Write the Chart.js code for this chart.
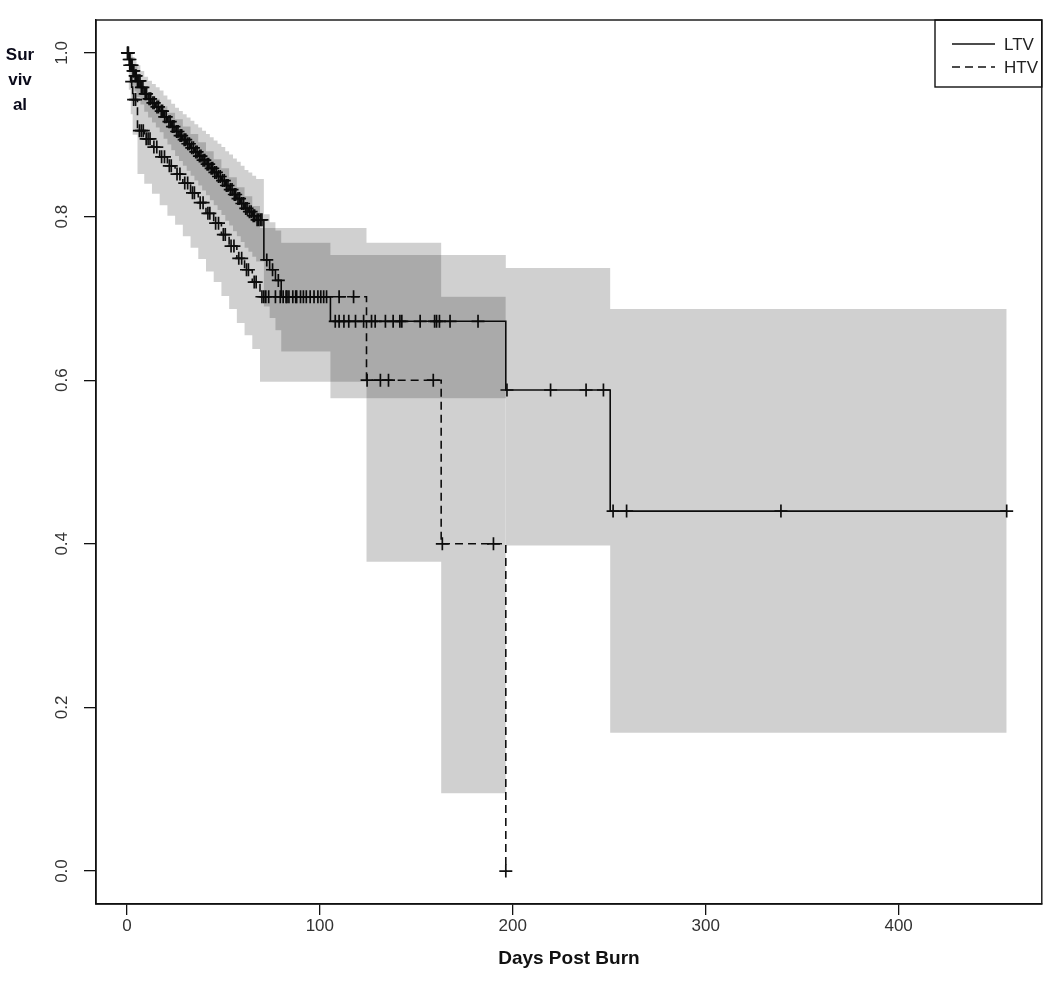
<!DOCTYPE html>
<html>
<head>
<meta charset="utf-8">
<script src="https://cdn.jsdelivr.net/npm/chart.js@4.4.0/dist/chart.umd.min.js"></script>
<style>
  html, body { margin: 0; padding: 0; background: #fff; }
</style>
</head>
<body>
<canvas id="km" width="1050" height="994"></canvas>
<script>
// LTV: step times (days) and survival after each step, with confidence bounds
const ltvTimes = [0, 1, 2, 3, 4, 5, 7, 9, 11, 13, 15, 17, 19, 21, 23, 25, 27, 29, 31, 33, 35, 37, 39, 41, 43, 45, 47, 49, 51, 53, 55, 57, 59, 61, 63, 65, 67, 71, 74, 77, 80, 105.5, 196.4, 250.5];
const ltvSurv = [1, 0.992, 0.985, 0.978, 0.972, 0.966, 0.958, 0.95, 0.944, 0.939, 0.934, 0.929, 0.922, 0.916, 0.91, 0.904, 0.899, 0.894, 0.889, 0.884, 0.879, 0.874, 0.869, 0.864, 0.859, 0.854, 0.849, 0.844, 0.838, 0.833, 0.827, 0.822, 0.816, 0.81, 0.806, 0.801, 0.796, 0.747, 0.735, 0.722, 0.702, 0.672, 0.588, 0.44];
const ltvUpper = [1, 1, 1, 0.995, 0.99, 0.985, 0.978, 0.971, 0.966, 0.962, 0.958, 0.954, 0.948, 0.943, 0.938, 0.933, 0.929, 0.925, 0.921, 0.917, 0.913, 0.909, 0.905, 0.901, 0.897, 0.893, 0.889, 0.885, 0.88, 0.876, 0.871, 0.867, 0.862, 0.857, 0.854, 0.85, 0.846, 0.803, 0.793, 0.783, 0.768, 0.753, 0.737, 0.687];
const ltvLower = [1, 0.98, 0.97, 0.96, 0.953, 0.946, 0.937, 0.928, 0.921, 0.915, 0.909, 0.903, 0.895, 0.888, 0.881, 0.874, 0.868, 0.862, 0.856, 0.85, 0.844, 0.838, 0.832, 0.826, 0.82, 0.814, 0.808, 0.802, 0.795, 0.789, 0.782, 0.776, 0.769, 0.762, 0.757, 0.751, 0.745, 0.69, 0.676, 0.661, 0.635, 0.578, 0.398, 0.169];
const ltvEnd = 456;
const ltvCensor = [0.3, 0.8, 1.2, 1.6, 2.3, 2.7, 3.2, 3.6, 4.3, 4.8, 5.5, 6.2, 6.8, 7.5, 8.3, 9.5, 10.2, 11.5, 12.3, 13.5, 14.2, 15.6, 16.4, 17.8, 18.5, 19.6, 20.4, 21.8, 22.5, 23.6, 24.4, 25.8, 26.5, 27.6, 28.4, 29.7, 30.5, 31.6, 32.4, 33.6, 34.5, 35.7, 36.4, 37.6, 38.4, 39.5, 40.4, 41.6, 42.4, 43.7, 44.5, 45.6, 46.4, 47.5, 48.4, 49.6, 50.5, 51.6, 52.4, 53.6, 54.5, 55.7, 56.4, 57.6, 58.4, 59.6, 60.5, 61.6, 62.3, 63.5, 64.4, 65.5, 66.2, 67.5, 68.3, 69.2, 70, 72.5, 75.5, 78.5, 81, 82.5, 84, 86, 88, 90, 91.5, 93, 95, 97, 99, 100.5, 102, 103.5, 108, 110, 112.5, 115, 118.5, 122.7, 126.8, 128.7, 134, 138, 141.5, 142.5, 152, 159.5, 160.5, 162, 167.5, 182, 197, 219.6, 238, 247, 252, 259, 339, 456];

// HTV
const htvTimes = [0, 1, 2, 3, 5.5, 9, 13, 17, 21, 25, 29, 33, 37, 41, 45, 49, 53, 57, 61, 65, 69, 124.2, 162.9, 196.4];
const htvSurv = [1, 0.985, 0.965, 0.943, 0.905, 0.895, 0.885, 0.873, 0.862, 0.852, 0.841, 0.829, 0.817, 0.804, 0.792, 0.778, 0.764, 0.749, 0.735, 0.72, 0.702, 0.6, 0.4, 0];
const htvUpper = [1, 1, 0.995, 0.985, 0.96, 0.952, 0.944, 0.935, 0.927, 0.919, 0.91, 0.901, 0.891, 0.88, 0.87, 0.859, 0.848, 0.836, 0.825, 0.813, 0.786, 0.768, 0.702];
const htvLower = [1, 0.955, 0.925, 0.9, 0.852, 0.84, 0.828, 0.814, 0.801, 0.79, 0.776, 0.762, 0.748, 0.733, 0.72, 0.703, 0.687, 0.67, 0.655, 0.638, 0.598, 0.378, 0.095];
const htvEnd = 196.4;
const htvCensor = [0.5, 1.5, 2.5, 3.5, 4.5, 6.5, 7.5, 8.5, 10, 11, 12, 14, 15.5, 18, 19.5, 22, 23, 26, 27.5, 30, 31.5, 34, 35, 38, 39.5, 42, 43, 46, 47.5, 50, 51, 54, 55.5, 58, 59.5, 62, 63, 66, 67, 70, 71, 72, 73.5, 77, 79.5, 83, 87.5, 110, 117.5, 124.5, 131.4, 135.6, 158.8, 163.5, 190, 196.4];

const seriesNames = ['LTV', 'HTV'];
const xTickValues = [0, 100, 200, 300, 400];
const yTickValues = [0, 0.2, 0.4, 0.6, 0.8, 1.0];

const bandFill = 'rgba(0,0,0,0.185)';
const narrowFont = "'Liberation Sans Narrow', 'Arial Narrow', 'Liberation Sans', sans-serif";

function stepPoints(times, vals, end) {
  const n = vals.length;
  const pts = [];
  for (let i = 0; i < n; i++) pts.push({ x: times[i], y: vals[i] });
  pts.push({ x: end, y: vals[n - 1] });
  return pts;
}

function survAt(times, surv, t) {
  let s = surv[0];
  for (let i = 0; i < times.length; i++) {
    if (times[i] <= t) s = surv[i];
  }
  return s;
}

function censorPoints(censor, times, surv) {
  return censor.map(t => ({ x: t, y: survAt(times, surv, t) }));
}

const bandStyle = {
  type: 'line',
  stepped: true,
  borderWidth: 0,
  borderColor: 'rgba(0,0,0,0)',
  backgroundColor: bandFill,
  pointRadius: 0,
};

const curveStyle = {
  type: 'line',
  stepped: true,
  borderColor: '#111',
  borderWidth: 1.6,
  pointRadius: 0,
  fill: false,
};

const markStyle = {
  type: 'scatter',
  showLine: false,
  pointStyle: 'cross',
  pointRadius: 6.5,
  borderColor: '#111',
  borderWidth: 1.7,
};

const framePlugin = {
  id: 'frame',
  afterDraw(chart) {
    const ctx = chart.ctx;
    const a = chart.chartArea;
    ctx.save();
    ctx.strokeStyle = '#111';
    ctx.lineWidth = 1.4;
    ctx.strokeRect(a.left, a.top, a.right - a.left, a.bottom - a.top);

    // rotated y tick labels, R style
    const ys = chart.scales.y;
    ctx.fillStyle = '#333';
    ctx.font = '17px ' + narrowFont;
    ctx.textAlign = 'center';
    ctx.textBaseline = 'middle';
    ys.ticks.forEach(t => {
      const py = ys.getPixelForValue(t.value);
      ctx.save();
      ctx.translate(62, py);
      ctx.rotate(-Math.PI / 2);
      ctx.fillText(t.value.toFixed(1), 0, 0);
      ctx.restore();
    });

    // y title split over three lines
    ctx.fillStyle = '#0a0a1a';
    ctx.font = "bold 17px 'Liberation Sans', Arial, sans-serif";
    ['Sur', 'viv', 'al'].forEach((s, i) => ctx.fillText(s, 20, 55 + i * 25));

    // legend
    const lx = 935, ly = a.top, lw = a.right - 935, lh = 67;
    ctx.strokeStyle = '#111';
    ctx.lineWidth = 1.4;
    ctx.strokeRect(lx, ly, lw, lh);
    ctx.font = "17px 'Liberation Sans', Arial, sans-serif";
    ctx.textAlign = 'left';
    ctx.fillStyle = '#222';
    seriesNames.forEach((name, i) => {
      const y = ly + 24 + i * 23;
      ctx.beginPath();
      ctx.setLineDash(i === 0 ? [] : [8, 5]);
      ctx.lineWidth = 1.6;
      ctx.moveTo(952, y);
      ctx.lineTo(995, y);
      ctx.stroke();
      ctx.setLineDash([]);
      ctx.fillText(name, 1004, y + 1);
    });
    ctx.restore();
  }
};

const ctx = document.getElementById('km').getContext('2d');
new Chart(ctx, {
  type: 'line',
  data: {
    datasets: [
      Object.assign({}, bandStyle, { label: 'LTV upper', data: stepPoints(ltvTimes, ltvUpper, ltvEnd), fill: '+1' }),
      Object.assign({}, bandStyle, { label: 'LTV lower', data: stepPoints(ltvTimes, ltvLower, ltvEnd), fill: false }),
      Object.assign({}, bandStyle, { label: 'HTV upper', data: stepPoints(htvTimes, htvUpper, htvEnd), fill: '+1' }),
      Object.assign({}, bandStyle, { label: 'HTV lower', data: stepPoints(htvTimes, htvLower, htvEnd), fill: false }),
      Object.assign({}, curveStyle, { label: 'LTV', data: stepPoints(ltvTimes, ltvSurv, ltvEnd) }),
      Object.assign({}, curveStyle, { label: 'HTV', data: stepPoints(htvTimes, htvSurv, htvEnd), borderDash: [8, 5] }),
      Object.assign({}, markStyle, { label: 'LTV censored', data: censorPoints(ltvCensor, ltvTimes, ltvSurv) }),
      Object.assign({}, markStyle, { label: 'HTV censored', data: censorPoints(htvCensor, htvTimes, htvSurv) }),
    ]
  },
  options: {
    responsive: false,
    animation: false,
    devicePixelRatio: 1,
    layout: { padding: { top: 20, right: 3, left: 0, bottom: 0 } },
    plugins: { legend: { display: false }, tooltip: { enabled: false } },
    scales: {
      x: {
        type: 'linear',
        min: -16,
        max: 474.2,
        afterBuildTicks: s => { s.ticks = xTickValues.map(v => ({ value: v })); },
        afterFit: s => { s.height = 90; },
        grid: { drawOnChartArea: false, drawTicks: true, tickLength: 11, color: '#111', lineWidth: 1.3 },
        border: { display: true, color: '#111', width: 1.4 },
        ticks: { color: '#333', padding: 1, font: { family: narrowFont, size: 17 }, maxRotation: 0, callback: v => String(v) },
        title: { display: true, text: 'Days Post Burn', color: '#111', font: { family: narrowFont, size: 19, weight: 'bold' }, padding: { top: 0, bottom: 24 } }
      },
      y: {
        type: 'linear',
        min: -0.0403,
        max: 1.0403,
        afterBuildTicks: s => { s.ticks = yTickValues.map(v => ({ value: v })); },
        afterFit: s => { s.width = 96; },
        grid: { drawOnChartArea: false, drawTicks: true, tickLength: 12, color: '#111', lineWidth: 1.3 },
        border: { display: true, color: '#111', width: 1.4 },
        ticks: { callback: () => '' }
      }
    }
  },
  plugins: [framePlugin]
});
</script>
</body>
</html>
